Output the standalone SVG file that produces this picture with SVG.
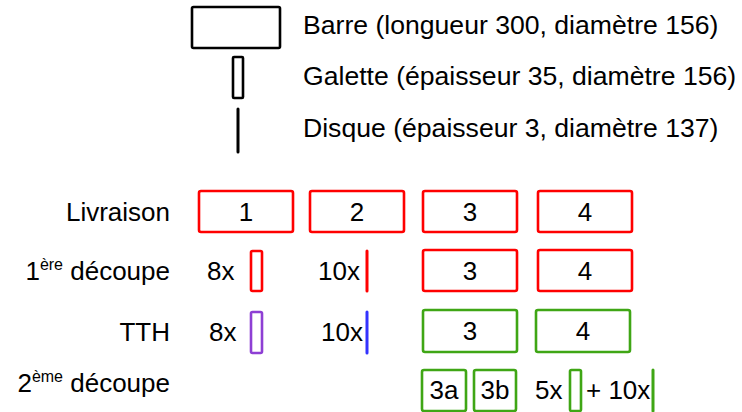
<svg xmlns="http://www.w3.org/2000/svg" width="742" height="412" viewBox="0 0 742 412">
<style>
text{font-family:"Liberation Sans",Arial,sans-serif;font-size:26px;fill:#000}
.top{font-size:26.6px}
.c{text-anchor:middle}
.e{text-anchor:end}
.sup{font-size:16px}
.blk{fill:#fff;stroke:#000;stroke-width:2.6}
.red{fill:#fff;stroke:#ff0000;stroke-width:2.6}
.grn{fill:#fff;stroke:#3fa615;stroke-width:2.6}
.pur{fill:#fff;stroke:#8e3fd4;stroke-width:2.6}
.ln{fill:none;stroke-width:3;stroke-linecap:round}
</style>
<rect width="742" height="412" fill="#fff"/>
<g id="legend-barre">
<rect class="blk" x="192" y="7" width="88" height="41" rx="1.5"/>
<text class="top" x="303" y="34">Barre (longueur 300, diamètre 156)</text>
</g>
<g id="legend-galette">
<rect class="blk" x="233" y="57" width="10" height="41" rx="1"/>
<text class="top" x="303" y="85">Galette (épaisseur 35, diamètre 156)</text>
</g>
<g id="legend-disque">
<line class="ln" x1="238" y1="109" x2="238" y2="152" stroke="#000"/>
<text class="top" x="303" y="137">Disque (épaisseur 3, diamètre 137)</text>
</g>
<g id="labels">
<text class="e" x="170" y="221">Livraison</text>
<text class="e" x="170" y="280">1<tspan class="sup" dy="-10">ère</tspan><tspan dy="10"> découpe</tspan></text>
<text class="e" x="170" y="341">TTH</text>
<text class="e" x="170" y="392">2<tspan class="sup" dy="-10">ème</tspan><tspan dy="10"> découpe</tspan></text>
</g>
<g id="livraison-1"><rect class="red" x="199" y="191" width="94" height="41" rx="2"/><text class="c" x="246" y="221">1</text></g>
<g id="livraison-2"><rect class="red" x="310" y="191" width="94" height="41" rx="2"/><text class="c" x="357" y="221">2</text></g>
<g id="livraison-3"><rect class="red" x="423" y="191" width="94" height="41" rx="2"/><text class="c" x="470" y="221">3</text></g>
<g id="livraison-4"><rect class="red" x="538" y="191" width="94" height="41" rx="2"/><text class="c" x="585" y="221">4</text></g>
<g id="decoupe1-1"><text x="207" y="280">8x</text><rect class="red" x="251" y="251" width="11" height="40" rx="1.5"/></g>
<g id="decoupe1-2"><text x="318" y="280">10x</text><line class="ln" x1="367" y1="251" x2="367" y2="291" stroke="#ff0000"/></g>
<g id="decoupe1-3"><rect class="red" x="423" y="250" width="94" height="41" rx="2"/><text class="c" x="470" y="280">3</text></g>
<g id="decoupe1-4"><rect class="red" x="538" y="250" width="94" height="41" rx="2"/><text class="c" x="585" y="280">4</text></g>
<g id="tth-1"><text x="209" y="341">8x</text><rect class="pur" x="251" y="312" width="11" height="41" rx="1.5"/></g>
<g id="tth-2"><text x="321" y="341">10x</text><line class="ln" x1="367" y1="312" x2="367" y2="353" stroke="#3333ff"/></g>
<g id="tth-3"><rect class="grn" x="423" y="310" width="94" height="42" rx="2"/><text class="c" x="470" y="340">3</text></g>
<g id="tth-4"><rect class="grn" x="536" y="310" width="94" height="42" rx="2"/><text class="c" x="583" y="340">4</text></g>
<g id="decoupe2-3a"><rect class="grn" x="422" y="370" width="44" height="41" rx="2"/><text class="c" x="444" y="399">3a</text></g>
<g id="decoupe2-3b"><rect class="grn" x="474" y="370" width="42" height="41" rx="2"/><text class="c" x="495" y="399">3b</text></g>
<g id="decoupe2-4"><text x="535" y="399">5x</text><rect class="grn" x="570" y="370" width="11" height="41" rx="1.5"/><text x="586" y="399">+ 10x</text><line class="ln" x1="653" y1="370" x2="653" y2="411" stroke="#3fa615"/></g>
</svg>
